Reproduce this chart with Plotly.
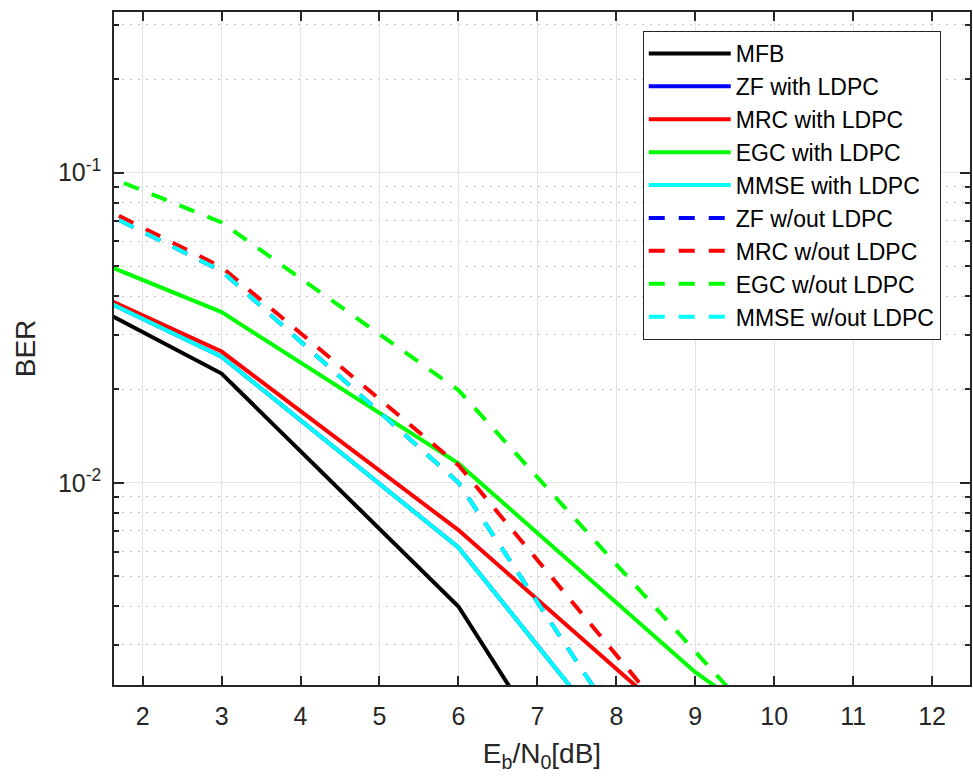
import plotly.graph_objects as go

# Eb/N0 sample points [dB]
ebn0 = [0, 3, 6, 9, 12]

# BER values
mfb       = [0.0568, 0.0225, 0.00399, 0.000252, 0.000016]
zf_ldpc   = [0.0593, 0.0255, 0.00619, 0.000695, 0.000078]
mrc_ldpc  = [0.0593, 0.0265, 0.00704, 0.00149, 0.00032]
egc_ldpc  = [0.0727, 0.0355, 0.01155, 0.00245, 0.00071]
mmse_ldpc = [0.0593, 0.0255, 0.00619, 0.000695, 0.000078]
zf_raw    = [0.1154, 0.0482, 0.01001, 0.000698, 0.000049]
mrc_raw   = [0.1193, 0.0496, 0.0114, 0.001374, 0.000166]
egc_raw   = [0.1405, 0.0691, 0.0199, 0.00286, 0.00041]
mmse_raw  = [0.1154, 0.0482, 0.01001, 0.000698, 0.000049]

names = ["MFB", "ZF with LDPC", "MRC with LDPC", "EGC with LDPC", "MMSE with LDPC",
         "ZF w/out LDPC", "MRC w/out LDPC", "EGC w/out LDPC", "MMSE w/out LDPC"]
series = [mfb, zf_ldpc, mrc_ldpc, egc_ldpc, mmse_ldpc, zf_raw, mrc_raw, egc_raw, mmse_raw]
colors = ["#000000", "#0000ff", "#ff0000", "#00ff00", "#00ffff",
          "#0000ff", "#ff0000", "#00ff00", "#00ffff"]
dashes = ["solid"] * 5 + ["16px,14px"] * 4

FONT = "Liberation Sans, Arial, Helvetica, sans-serif"
AXC = "#262626"

fig = go.Figure()
for n, s, c, d in zip(names, series, colors, dashes):
    fig.add_trace(go.Scatter(x=ebn0, y=s, mode="lines", name=n,
                             line=dict(color=c, width=4, dash=d)))

minor_vals = [m * 10 ** e for e in (-3, -2, -1) for m in range(2, 10)]

fig.update_layout(
    width=973, height=778,
    margin=dict(l=114, r=1, t=12, b=93),
    paper_bgcolor="white", plot_bgcolor="white",
    font=dict(family=FONT, color=AXC, size=25),
    showlegend=True,
    legend=dict(x=0.6177, y=0.9718, xanchor="left", yanchor="top",
                bgcolor="white", bordercolor=AXC, borderwidth=1,
                font=dict(family=FONT, size=23, color="#000000"),
                itemwidth=82, tracegroupgap=0),
)
fig.update_xaxes(
    range=[1.637, 12.48], tickmode="array", tickvals=list(range(2, 13)),
    ticks="inside", ticklen=9, tickwidth=1.5, tickcolor=AXC,
    showline=True, linecolor=AXC, linewidth=1.5, mirror="ticks",
    showgrid=True, gridcolor="#e3e3e3", gridwidth=1, zeroline=False,
    tickfont=dict(size=25, color=AXC), ticklabelstandoff=8,
    title=dict(text="E<sub>b</sub>/N<sub>0</sub>[dB]", font=dict(size=28, color=AXC), standoff=15),
)
fig.update_yaxes(
    type="log", range=[-2.652, -0.482],
    tickmode="array", tickvals=[0.01, 0.1], ticktext=["10<sup>-2</sup>", "10<sup>-1</sup>"],
    ticks="inside", ticklen=10, tickwidth=1.5, tickcolor=AXC,
    showline=True, linecolor=AXC, linewidth=1.5, mirror="ticks",
    showgrid=True, gridcolor="#e3e3e3", gridwidth=1, zeroline=False,
    tickfont=dict(size=25, color=AXC), ticklabelstandoff=6,
    minor=dict(tickmode="array", tickvals=minor_vals, ticks="inside", ticklen=5,
               tickwidth=1.5, tickcolor=AXC, showgrid=True, gridcolor="#c4c4c4",
               gridwidth=1, griddash="2px,6px"),
    title=dict(text="BER", font=dict(size=28, color=AXC), standoff=14),
)

fig.write_html("out.html")
